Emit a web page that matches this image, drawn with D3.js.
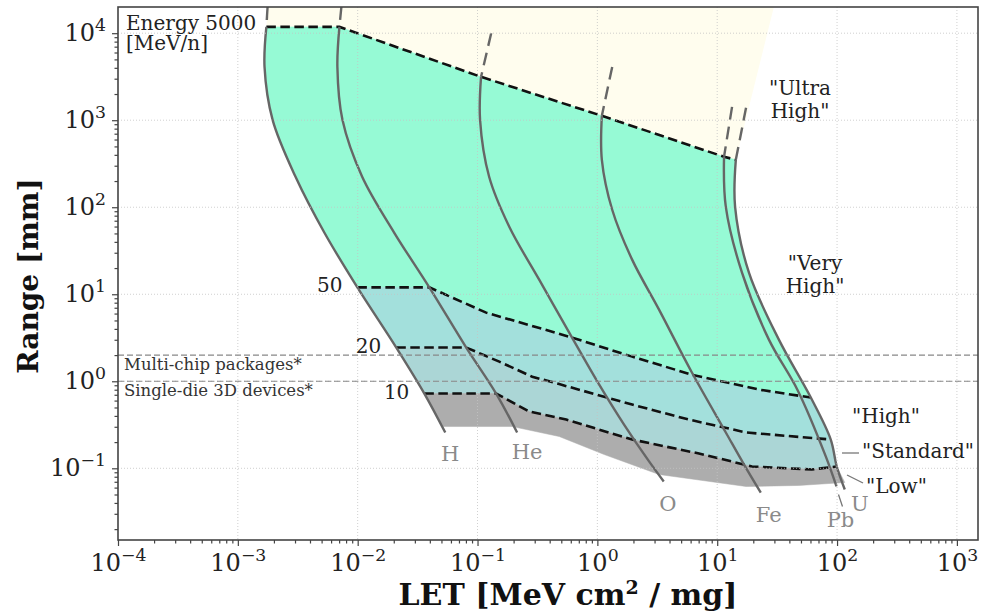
<!DOCTYPE html>
<meta charset="utf-8">
<style>
    body { margin: 0; background: #fff; }
    svg text { font-family: "DejaVu Serif", serif; }
    .grid line { stroke: #c4c4c4; stroke-width: 0.8; stroke-dasharray: 1,2; }
    .axis path { display: none; }
    .axis line { stroke: #444; stroke-width: 1.2; }
    .axis text { font-size: 24px; fill: #222; font-family: "DejaVu Serif", serif; }
    .iso { fill: none; stroke: #111; stroke-width: 2.6; stroke-dasharray: 9.5,4.5; }
    .ion { fill: none; stroke: #666; stroke-width: 2.4; }
    .ionext { fill: none; stroke: #666; stroke-width: 2.4; stroke-dasharray: 13,7; }
    .pkg { stroke: #888; stroke-width: 1.1; stroke-dasharray: 6,3; }
    .lbl { font-size: 20px; fill: #222; }
    .ionlbl { font-size: 21px; fill: #8a8a8a; }
    .leader { stroke: #777; stroke-width: 1.3; }
</style>
<body>
<script src="https://d3js.org/d3.v7.min.js"></script>
<script>
    // ---- data (LET in MeV cm2/mg, range in mm) ----
    var ions = ["H", "He", "O", "Fe", "Pb", "U"];

    // solid part of each ion curve, from 5000 MeV/n down to its end
    var ionLET = [
        [1.73e-3, 1.67e-3, 1.95e-3, 3.03e-3, 5.28e-3, 9.94e-3, 0.0210, 0.0360, 0.0538],
        [7.04e-3, 6.77e-3, 7.46e-3, 0.0109, 0.0202, 0.0396, 0.0805, 0.143, 0.214],
        [0.107, 0.105, 0.125, 0.184, 0.327, 0.615, 1.03, 1.67, 2.70, 3.58],
        [1.09, 1.09, 1.33, 1.95, 3.27, 6.15, 11.8, 16.7, 23.1],
        [11.4, 11.8, 16.1, 27.0, 47.0, 80.5, 98.9],
        [14.3, 14.1, 18.4, 32.7, 60.4, 88.6, 99.4, 116]
    ];
    var ionRange = [
        [11810, 4100, 1010, 224, 50.9, 12.0, 2.44, 0.723, 0.258],
        [11810, 4100, 1010, 224, 50.9, 12.0, 2.44, 0.723, 0.258],
        [3150, 1010, 224, 59.7, 14.7, 3.18, 0.928, 0.318, 0.120, 0.0706],
        [1124, 351, 93.6, 25.0, 6.66, 1.26, 0.258, 0.111, 0.0525],
        [380, 101, 17.7, 3.01, 0.784, 0.137, 0.0618],
        [351, 101, 17.7, 3.01, 0.650, 0.214, 0.105, 0.0571]
    ];
    // dashed continuation above 5000 MeV/n
    var extLET = [1.77e-3, 7.31e-3, 0.130, 1.33, 13.3, 17.4];
    var extRange = [2e4, 2e4, 1.0e4, 4100, 1425, 1390];

    // iso-energy lines [MeV/n]
    var let5000 = [1.73e-3, 7.04e-3, 0.107, 1.09, 11.4, 14.3];
    var range5000 = [11810, 11810, 3150, 1124, 380, 351];
    var let50 = [9.94e-3, 0.0396, 0.118, 0.615, 1.95, 6.15, 22.3, 60.4];
    var range50 = [12.0, 12.0, 6.15, 3.18, 1.92, 1.19, 0.803, 0.650];
    var let20 = [0.0210, 0.0805, 0.152, 0.286, 0.480, 1.95, 5.81, 17.4, 88.6];
    var range20 = [2.44, 2.44, 1.68, 1.13, 0.928, 0.540, 0.363, 0.258, 0.214];
    var let10 = [0.0360, 0.143, 0.270, 0.549, 1.95, 7.04, 19.5, 61.5, 99.4];
    var range10 = [0.723, 0.723, 0.449, 0.363, 0.214, 0.148, 0.105, 0.0969, 0.105];
    // lower edge of the "Low" band
    var letLow = [0.0518, 0.195, 0.480, 1.14, 3.27, 17.4, 48.0, 116];
    var rangeLow = [0.302, 0.302, 0.232, 0.144, 0.0849, 0.0618, 0.0635, 0.0687];
    // upper right corner of the "Ultra High" area
    var ultraCornerLET = 29.7, ultraCornerRange = 2e4;

    // package thickness lines [mm]
    var pkgRange = [2, 1];
    var pkgNames = ["Multi-chip packages*", "Single-die 3D devices*"];

    var xTicks = [1e-4, 1e-3, 1e-2, 1e-1, 1e0, 1e1, 1e2, 1e3];
    var yTicks = [1e-1, 1e0, 1e1, 1e2, 1e3, 1e4];

    // ---- layout ----
    var margin = {top: 7, right: 5, bottom: 75, left: 118},
        width = 983 - margin.left - margin.right,
        height = 615 - margin.top - margin.bottom;

    var svg = d3.select("body").append("svg")
        .attr("width", 983)
        .attr("height", 615)
        .append("g")
        .attr("transform", "translate(" + margin.left + "," + margin.top + ")");

    var x = d3.scaleLog().domain([1e-4, 1.5e3]).range([0, width]);
    var y = d3.scaleLog().domain([0.015, 2e4]).range([height, 0]);

    svg.append("clipPath").attr("id", "plotclip")
        .append("rect").attr("width", width).attr("height", height);

    function pts(lets, ranges) {
        return lets.map(function (d, i) { return [d, ranges[i]]; });
    }
    var lin = d3.line().x(d => x(d[0])).y(d => y(d[1]));
    var smooth = d3.line().x(d => x(d[0])).y(d => y(d[1])).curve(d3.curveCatmullRom);

    var iso5000 = pts(let5000, range5000),
        iso50 = pts(let50, range50),
        iso20 = pts(let20, range20),
        iso10 = pts(let10, range10),
        isoLow = pts(letLow, rangeLow);
    var ionPts = ions.map((n, i) => pts(ionLET[i], ionRange[i]));
    var hPts = ionPts[0], uPts = ionPts[ionPts.length - 1];

    // band between two iso lines, closed along the H and U curves
    function band(top, bot) {
        var tl = top[0], tr = top[top.length - 1];
        var bl = bot[0], br = bot[bot.length - 1];
        var uSeg = [tr].concat(uPts.filter(p => p[1] < tr[1] * 0.99 && p[1] > br[1] * 1.01), [br]);
        var hSeg = [bl].concat(hPts.filter(p => p[1] > bl[1] * 1.01 && p[1] < tl[1] * 0.99).reverse(), [tl]);
        return lin(top) +
            smooth(uSeg).replace(/^M/, "L") +
            lin(bot.slice().reverse()).replace(/^M/, "L") +
            smooth(hSeg).replace(/^M/, "L") + "Z";
    }

    var plot = svg.append("g").attr("clip-path", "url(#plotclip)");

    // "Ultra High" area
    var ultra = [[extLET[0], extRange[0]], [ultraCornerLET, ultraCornerRange]]
        .concat(iso5000.slice().reverse());
    plot.append("path").attr("d", lin(ultra) + "Z").attr("fill", "#fffdee");

    var bands = [
        {top: iso5000, bot: iso50, color: "#96fad5"},
        {top: iso50, bot: iso20, color: "#a3e0dc"},
        {top: iso20, bot: iso10, color: "#abd6d6"},
        {top: iso10, bot: isoLow, color: "#adadad"}
    ];
    plot.selectAll(".band").data(bands).enter().append("path")
        .attr("class", "band")
        .attr("d", d => band(d.top, d.bot))
        .attr("fill", d => d.color)
        .attr("stroke", d => d.color)
        .attr("stroke-width", 0.5);

    // grid
    var grid = svg.append("g").attr("class", "grid");
    grid.selectAll(".gx").data(xTicks.slice(1)).enter().append("line")
        .attr("x1", d => x(d)).attr("x2", d => x(d))
        .attr("y1", 0).attr("y2", height);
    grid.selectAll(".gy").data(yTicks).enter().append("line")
        .attr("y1", d => y(d)).attr("y2", d => y(d))
        .attr("x1", 0).attr("x2", width);

    // package lines
    svg.selectAll(".pkg").data(pkgRange).enter().append("line")
        .attr("class", "pkg")
        .attr("x1", 0).attr("x2", width)
        .attr("y1", d => y(d)).attr("y2", d => y(d));
    svg.selectAll(".pkgl").data(pkgNames).enter().append("text")
        .attr("x", 6)
        .attr("y", (d, i) => y(pkgRange[i]) + 15)
        .attr("font-size", "16.5px").attr("fill", "#333")
        .text(d => d);

    // iso-energy dashed lines
    [iso5000, iso50, iso20, iso10].forEach(function (l) {
        plot.append("path").attr("class", "iso").attr("d", lin(l));
    });

    // ion curves
    ionPts.forEach(function (p, i) {
        plot.append("path").attr("class", "ionext")
            .attr("d", lin([[extLET[i], extRange[i]], p[0]]));
        plot.append("path").attr("class", "ion").attr("d", smooth(p));
    });

    // ion labels
    var ionLabelOffset = [[5, 29], [10, 27], [4, 30], [8, 29], [4, 41], [15, 22]];
    svg.selectAll(".ionlbl").data(ions).enter().append("text")
        .attr("class", "ionlbl")
        .attr("text-anchor", "middle")
        .attr("x", (d, i) => x(ionLET[i][ionLET[i].length - 1]) + ionLabelOffset[i][0])
        .attr("y", (d, i) => y(ionRange[i][ionRange[i].length - 1]) + ionLabelOffset[i][1])
        .text(d => d);
    // Pb leader
    var pbEnd = ionPts[4][ionPts[4].length - 1];
    svg.append("line").attr("class", "leader")
        .attr("x1", x(pbEnd[0]) + 2).attr("y1", y(pbEnd[1]) + 8)
        .attr("x2", x(pbEnd[0]) + 6).attr("y2", y(pbEnd[1]) + 20);

    // energy labels
    svg.append("text").attr("class", "lbl").attr("font-size", "17px")
        .attr("x", 8).attr("y", 23).text("Energy 5000");
    svg.append("text").attr("class", "lbl").attr("font-size", "17px")
        .attr("x", 8).attr("y", 43).text("[MeV/n]");
    [[iso50, "50"], [iso20, "20"], [iso10, "10"]].forEach(function (e) {
        svg.append("text").attr("class", "lbl").attr("font-size", "17px")
            .attr("text-anchor", "end")
            .attr("x", x(e[0][0][0]) - 15)
            .attr("y", y(e[0][0][1]) + 5)
            .text(e[1]);
    });

    // region labels
    function twoLine(px, py, a, b) {
        var t = svg.append("text").attr("class", "lbl").attr("text-anchor", "middle");
        t.append("tspan").attr("x", px).attr("y", py).text(a);
        if (b) t.append("tspan").attr("x", px).attr("y", py + 23).text(b);
    }
    twoLine(800 - 118, 95 - 7, "\"Ultra", "High\"");
    twoLine(815 - 118, 270 - 7, "\"Very", "High\"");
    twoLine(886 - 118, 423 - 7, "\"High\"");
    svg.append("text").attr("class", "lbl").attr("x", 862 - 118).attr("y", 458 - 7).text("\"Standard\"");
    svg.append("text").attr("class", "lbl").attr("x", 866 - 118).attr("y", 493 - 7).text("\"Low\"");
    svg.append("line").attr("class", "leader")
        .attr("x1", 842 - 118).attr("y1", 453 - 7).attr("x2", 859 - 118).attr("y2", 453 - 7);
    svg.append("line").attr("class", "leader")
        .attr("x1", 847 - 118).attr("y1", 475 - 7).attr("x2", 863 - 118).attr("y2", 483 - 7);

    // axes
    function powerLabel(sel) {
        sel.each(function (d) {
            var e = Math.round(Math.log10(d));
            var t = d3.select(this).text(null);
            t.append("tspan").text("10");
            t.append("tspan").attr("dy", "-0.6em").attr("font-size", "0.72em")
                .text(e < 0 ? "\u2212" + (-e) : e);
        });
    }
    function minorTicks(dom) {
        var out = [];
        for (var e = -5; e <= 4; e++)
            for (var m = 2; m <= 9; m++) {
                var v = m * Math.pow(10, e);
                if (v > dom[0] && v < dom[1]) out.push(v);
            }
        return out;
    }

    var gx = svg.append("g").attr("class", "axis").attr("transform", "translate(0," + height + ")");
    gx.call(d3.axisBottom(x).tickValues(minorTicks(x.domain())).tickSize(3.5).tickFormat(""));
    var gx2 = svg.append("g").attr("class", "axis").attr("transform", "translate(0," + height + ")");
    gx2.call(d3.axisBottom(x).tickValues(xTicks).tickSize(6).tickPadding(8).tickFormat(d => d));
    gx2.selectAll("text").call(powerLabel);

    var gy = svg.append("g").attr("class", "axis");
    gy.call(d3.axisLeft(y).tickValues(minorTicks(y.domain())).tickSize(3.5).tickFormat(""));
    var gy2 = svg.append("g").attr("class", "axis");
    gy2.call(d3.axisLeft(y).tickValues(yTicks).tickSize(6).tickPadding(6).tickFormat(d => d));
    gy2.selectAll("text").call(powerLabel);

    svg.append("rect").attr("width", width).attr("height", height)
        .attr("fill", "none").attr("stroke", "#444").attr("stroke-width", 1.6);

    // axis titles
    var xt = svg.append("text")
        .attr("x", 568 - 118).attr("y", 605 - 7)
        .attr("text-anchor", "middle")
        .attr("font-size", "30px").attr("font-weight", "bold").attr("fill", "#111");
    xt.append("tspan").text("LET [MeV cm");
    xt.append("tspan").attr("dy", "-11").attr("font-size", "19px").text("2");
    xt.append("tspan").attr("dy", "11").text(" / mg]");

    svg.append("text")
        .attr("transform", "translate(" + (38 - 118) + "," + (276 - 7) + ") rotate(-90)")
        .attr("text-anchor", "middle")
        .attr("font-size", "28px").attr("font-weight", "bold").attr("fill", "#111")
        .text("Range [mm]");
</script>
</body>
